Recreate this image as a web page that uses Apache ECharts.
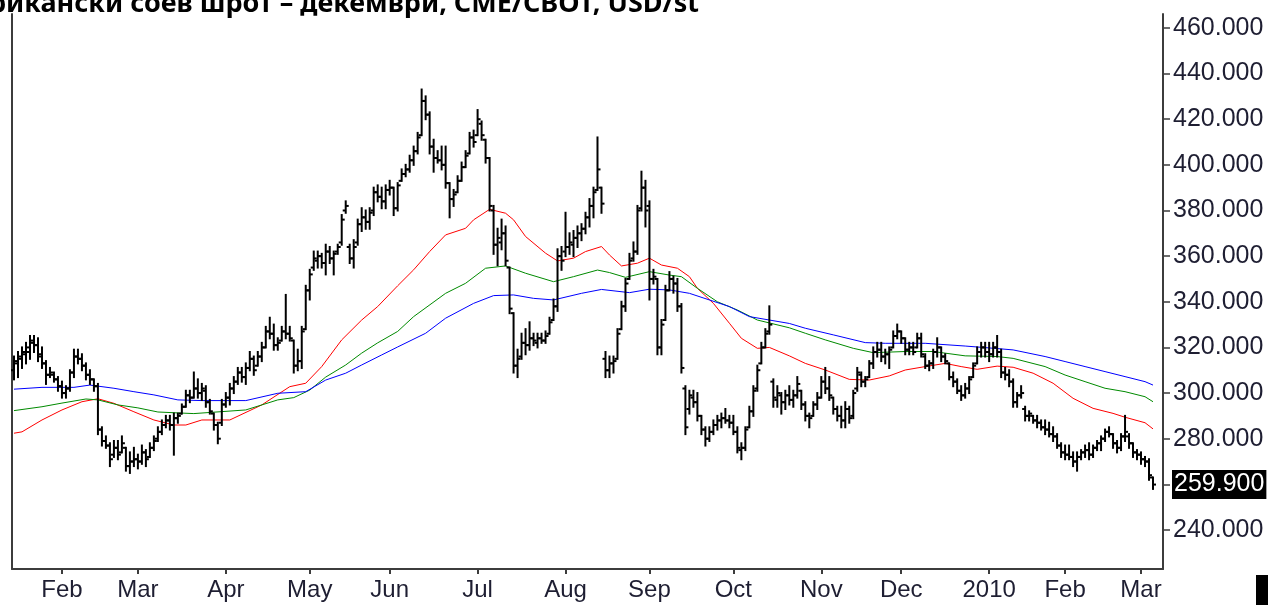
<!DOCTYPE html>
<html>
<head>
<meta charset="utf-8">
<script src="https://cdn.jsdelivr.net/npm/echarts@6/dist/echarts.min.js"></script>
<style>
html,body{margin:0;padding:0;background:#fff;}
#chart{width:1268px;height:605px;}
</style>
</head>
<body>
<div id="chart"></div>
<script>
// ---- categories: trading days (Jan 14 2009 .. Mar 2010) ----
const startDate = '2009-01-14';
const categoryCount = 288;
const holidays = ['2009-01-19','2009-02-16','2009-04-10','2009-05-25','2009-07-03','2009-09-07',
  '2009-11-26','2009-12-25','2010-01-01','2010-01-18','2010-02-15'];
const monthNames = ['Jan','Feb','Mar','Apr','May','Jun','Jul','Aug','Sep','Oct','Nov','Dec'];

function buildTradingDays(start, n, hol) {
  const out = [];
  const p = start.split('-').map(Number);
  let t = Date.UTC(p[0], p[1] - 1, p[2]);
  while (out.length < n) {
    const d = new Date(t);
    const s = d.toISOString().slice(0, 10);
    const dow = d.getUTCDay();
    if (dow !== 0 && dow !== 6 && hol.indexOf(s) < 0) out.push(s);
    t += 86400000;
  }
  return out;
}
const categories = buildTradingDays(startDate, categoryCount, holidays);

// ---- OHLC values ----
const opens = [
310,313,315,317,318,322,321,317,313,308,
308,306,303,300,302,309,316,315,312,308,
306,303,284,279,277,273,276,274,276,268,
270,271,270,274,272,276,280,283,286,288,
286,289,291,294,299,298,302,300,301,296,
291,286,287,295,298,302,305,309,307,311,
315,312,316,320,327,326,321,323,327,326,
323,312,314,328,345,355,358,360,357,362,
359,362,366,380,364,359,366,374,377,375,
380,388,386,384,389,390,381,393,396,398,
402,406,413,428,422,408,403,402,400,392,
385,388,393,399,405,412,413,418,411,403,
380,365,366,370,355,335,312,316,322,321,
324,322,324,323,326,332,338,360,362,364,
365,368,370,372,377,382,389,390,315,310,
313,315,328,338,350,359,362,381,390,382,
350,350,320,332,345,350,348,338,302,293,
298,296,290,284,280,283,286,288,289,288,
287,283,275,276,285,292,302,313,320,327,
305,297,299,296,299,297,299,301,295,290,
290,295,298,305,302,298,293,290,288,293,
290,302,308,305,307,313,318,319,316,317,
320,325,327,324,319,320,320,324,316,312,
313,318,320,316,313,307,305,301,299,302,
307,313,318,320,318,317,320,318,309,308,
305,296,299,293,290,290,288,287,285,284,
282,281,277,274,273,272,270,272,274,275,
273,276,278,280,283,282,278,276,281,281,
278,274,273,271,270,263];
const highs = [
316,318,320,322,325,325,324,320,314,311,
309,307,305,303,310,319,319,317,313,310,
306,304,285,281,278,279,279,281,276,274,
276,273,277,275,278,281,285,288,290,290,
291,291,295,301,301,309,306,304,303,297,
291,287,297,300,304,307,311,311,313,318,
316,318,322,329,333,330,324,329,343,329,
323,319,329,347,354,362,362,361,365,364,
362,365,378,384,365,367,376,381,380,381,
390,391,390,391,393,390,392,398,400,404,
408,414,433,430,423,411,406,408,408,392,
389,395,401,406,414,415,424,419,411,403,
382,372,376,373,355,335,319,326,328,331,
326,326,326,327,333,341,363,364,379,370,
371,373,374,379,385,390,412,390,318,316,
316,328,340,350,361,366,382,397,393,384,
354,350,332,347,353,351,350,339,303,301,
301,300,290,285,285,288,290,291,293,290,
290,285,278,285,294,303,312,322,328,338,
306,303,300,301,303,301,307,301,296,291,
296,300,307,311,307,298,294,294,296,294,
301,311,309,307,314,320,322,322,319,320,
327,330,327,324,322,322,326,326,317,314,
319,324,320,317,313,309,306,303,304,307,
313,320,322,322,322,322,325,319,311,310,
306,300,303,294,292,290,290,288,288,287,
285,282,278,277,277,274,274,275,277,278,
277,279,281,284,285,282,279,282,290,282,
278,275,274,272,271,263];
const lows = [
306,307,311,313,315,318,314,311,304,307,
305,301,298,298,301,307,313,310,306,304,
301,282,277,276,268,272,271,274,266,265,
268,267,269,268,272,275,279,282,285,284,
273,287,291,294,296,298,298,297,294,291,
284,278,286,294,295,300,304,305,304,310,
308,312,314,320,324,319,319,323,324,323,
309,310,311,328,341,354,355,355,352,357,
352,361,365,379,357,355,365,371,372,372,
378,384,381,381,387,378,380,393,395,397,
400,405,413,420,405,397,401,398,390,377,
382,388,393,399,405,408,413,411,401,380,
361,356,363,356,335,309,307,315,317,319,
321,320,322,322,326,332,336,354,360,361,
360,364,367,370,373,377,389,379,307,307,
309,315,328,336,350,358,361,380,373,341,
348,317,317,332,345,344,336,309,282,291,
294,288,282,277,279,282,284,285,287,285,
282,274,271,275,285,290,301,313,320,326,
294,294,291,293,295,294,298,293,288,285,
290,293,298,300,297,291,288,285,285,287,
289,301,303,303,307,311,316,314,313,311,
320,324,322,317,317,317,320,316,311,310,
311,316,314,313,306,303,300,297,298,300,
307,313,316,316,314,316,316,307,306,303,
294,294,298,288,288,287,285,284,282,281,
279,276,272,271,271,268,266,271,272,271,
272,275,275,279,281,276,274,275,279,276,
272,271,269,268,262,258];
const closes = [
314,316,318,320,323,321,316,313,308,309,
306,303,300,302,309,316,315,312,308,306,
303,284,279,277,271,276,273,278,268,270,
271,270,274,271,276,279,283,286,288,286,
289,290,294,299,298,302,300,302,296,292,
286,280,295,298,302,305,309,307,311,315,
310,316,320,327,326,321,322,327,326,324,
312,314,327,345,352,359,360,357,362,359,
361,364,376,382,359,364,374,377,375,379,
388,386,384,389,390,381,391,396,398,402,
406,412,428,422,408,403,402,400,392,385,
387,393,399,404,412,410,420,413,403,382,
365,368,370,358,337,312,315,322,321,324,
323,324,323,325,331,338,360,358,364,366,
368,370,372,377,382,388,398,383,310,313,
314,326,338,348,358,362,380,390,380,350,
351,320,330,345,350,348,338,311,285,299,
296,290,284,280,283,286,288,289,288,287,
283,276,276,284,292,301,310,320,326,330,
298,300,296,299,297,299,304,295,290,289,
295,298,305,302,299,293,290,288,293,289,
300,309,305,306,313,318,319,316,317,319,
325,327,324,319,320,318,324,317,312,313,
318,320,316,314,307,305,301,299,302,306,
312,318,320,318,317,320,318,309,308,305,
296,299,300,290,291,288,287,285,284,282,
281,277,274,273,272,270,272,274,275,273,
276,278,280,283,282,278,276,281,283,278,
274,273,271,270,264,259.9];

// ---- moving averages, read at sample points: [category index, value] ----
const maRed = [[0,282.4],[2,283],[7,288.2],[12,292.6],[17,296.2],[21,297.5],[25,295.5],[30,291.8],[35,288.2],
 [40,286],[43,286],[47,288.2],[54,288.2],[62,294.8],[69,302.8],[73,304.3],[77,311.6],[82,323.3],[87,332],
 [91,337.9],[96,347],[100,354],[104,362],[108,369.3],[113,372.2],[115,375.9],[119,380.5],[123,378.8],
 [125,375.9],[128,368.6],[133,361.3],[136,357.9],[140,359.1],[143,362],[147,364.2],[149,360.5],[152,355.7],
 [156,356.9],[159,359.1],[162,356.1],[166,354.7],[169,351],[171,345.9],[175,339.3],[179,330.6],[182,324],
 [186,319.6],[189,320],[194,316.3],[198,313],[203,310.1],[209,306],[214,305.7],[219,307.5],[223,310.1],
 [228,311.6],[233,313],[237,311.6],[241,310.4],[246,311.8],[250,311.3],[255,308.7],[260,304.3],[265,297.7],
 [270,293.3],[275,291.1],[278,289.4],[283,287],[285,284.3]];
const maGreen = [[0,292.3],[7,294],[12,295.6],[18,297.4],[21,297],[26,294.8],[31,293.5],[36,291.7],[41,291.3],
 [45,291],[58,292.6],[66,297],[70,298],[74,301.3],[78,307],[83,312.3],[87,317.5],[91,322],[96,327],
 [100,333.5],[108,343.7],[113,348.1],[118,354.7],[123,355.7],[128,352.5],[135,348.8],[140,351],[146,353.9],
 [149,352.8],[153,350.7],[159,353.2],[164,351.7],[167,351],[171,345.9],[176,340],[181,336.4],[186,332],
 [194,328.6],[198,326.2],[203,323.3],[210,319.6],[215,317.7],[223,318.2],[230,318.2],[238,316.3],[246,316],
 [250,315.2],[258,311.6],[263,307.9],[268,305],[273,302.1],[278,300.6],[283,298.4],[285,296.2]];
const maBlue = [[0,301.7],[7,302.5],[15,302.5],[19,303.5],[25,302.1],[30,300.6],[35,299.2],[41,297],[47,296.7],
 [58,296.7],[66,299.9],[73,300.6],[78,305.7],[83,308.7],[87,312.3],[92,316.7],[96,320.2],[103,326.2],
 [108,332.8],[115,339.3],[120,342.7],[125,343],[130,341.5],[135,340.8],[142,343.7],[147,345.4],[154,344],
 [159,345.5],[164,345.2],[169,343.7],[174,340.8],[179,337.9],[184,333.5],[189,332],[194,330.5],[198,328.4],
 [205,325.5],[213,322.1],[218,321.8],[228,321.8],[238,320.6],[246,319.5],[250,318.9],[258,316],[263,313.8],
 [268,311.6],[273,309.4],[278,307.2],[283,305],[285,303.5]];

const yTicks = [240,260,280,300,320,340,360,380,400,420,440,460];
const lastPrice = 259.9;
const titleText = 'Американски соев шрот – декември, CME/CBOT, USD/st';

// ---- build ----
const ohlcData = opens.map((o, i) => [i, o, highs[i], lows[i], closes[i]]);
function isMonthStart(index) {
  return index > 0 && categories[index].slice(0, 7) !== categories[index - 1].slice(0, 7);
}
const axisColor = '#3c3c3c';
const labelColor = '#1e1e32';
const fontFam = '"Liberation Sans", Arial, sans-serif';

const chart = echarts.init(document.getElementById('chart'), null, {renderer: 'canvas'});
chart.setOption({
  animation: false,
  backgroundColor: '#ffffff',
  grid: {left: 12, right: 105, top: 14, bottom: 36, containLabel: false},
  xAxis: {
    type: 'category',
    data: categories,
    boundaryGap: true,
    axisLine: {show: true, lineStyle: {color: axisColor, width: 2}},
    axisTick: {show: true, alignWithLabel: true, length: 5, interval: (i) => isMonthStart(i),
      lineStyle: {color: axisColor, width: 2}},
    axisLabel: {
      interval: (i) => isMonthStart(i),
      formatter: (v) => { const m = +v.slice(5, 7) - 1; return m === 0 ? v.slice(0, 4) : monthNames[m]; },
      fontSize: 24, color: labelColor, margin: 9, fontFamily: fontFam
    },
    splitLine: {show: false}
  },
  yAxis: [{
    type: 'value',
    position: 'right',
    min: 222.9, max: 466.1,
    axisLine: {show: true, lineStyle: {color: axisColor, width: 2}},
    axisTick: {show: true, length: 7, customValues: yTicks.concat([lastPrice]), lineStyle: {color: axisColor, width: 1.5}},
    axisLabel: {customValues: yTicks, formatter: (v) => Number(v).toFixed(3),
      fontSize: 25, color: labelColor, margin: 10, fontFamily: fontFam},
    splitLine: {show: false}
  }, {
    type: 'value',
    position: 'left',
    min: 222.9, max: 466.1,
    axisLine: {show: true, lineStyle: {color: axisColor, width: 2}},
    axisTick: {show: false},
    axisLabel: {show: false},
    splitLine: {show: false}
  }],
  series: [{
    type: 'custom',
    name: 'OHLC',
    data: ohlcData,
    encode: {x: 0, y: [1, 2, 3, 4]},
    renderItem: function (params, api) {
      const i = api.value(0);
      const x = api.coord([i, api.value(2)])[0];
      const yo = api.coord([i, api.value(1)])[1];
      const yh = api.coord([i, api.value(2)])[1];
      const yl = api.coord([i, api.value(3)])[1];
      const yc = api.coord([i, api.value(4)])[1];
      const st = {stroke: '#000', lineWidth: 2};
      return {type: 'group', children: [
        {type: 'line', shape: {x1: x, y1: yh - 1, x2: x, y2: yl + 1}, style: st},
        {type: 'line', shape: {x1: x - 3, y1: yo, x2: x, y2: yo}, style: st},
        {type: 'line', shape: {x1: x, y1: yc, x2: x + 3, y2: yc}, style: st}
      ]};
    },
    z: 3
  }, {
    type: 'line', name: 'MA red', data: maRed, showSymbol: false, symbol: 'none',
    lineStyle: {color: '#ff0000', width: 1}, z: 2
  }, {
    type: 'line', name: 'MA green', data: maGreen, showSymbol: false, symbol: 'none',
    lineStyle: {color: '#008a00', width: 1}, z: 2
  }, {
    type: 'line', name: 'MA blue', data: maBlue, showSymbol: false, symbol: 'none',
    lineStyle: {color: '#0000ff', width: 1}, z: 2,
    markLine: {
      silent: true, symbol: ['none', 'none'],
      lineStyle: {color: 'rgba(0,0,0,0)', width: 1, type: 'solid'},
      data: [{yAxis: lastPrice}],
      label: {show: true, position: 'end', distance: 9, formatter: () => lastPrice.toFixed(3),
        backgroundColor: '#000', color: '#fff', fontSize: 25, fontFamily: fontFam, padding: [3, 2, 1, 2]}
    }
  }],
  graphic: [{
    type: 'text', x: 699, y: 18,
    style: {text: titleText, font: 'bold 27px "Noto Sans", sans-serif', fill: '#000',
      textAlign: 'right', textVerticalAlign: 'bottom'}
  }, {
    type: 'rect', right: 0, bottom: 0,
    shape: {width: 12, height: 30}, style: {fill: '#000'}
  }]
});
</script>
</body>
</html>
